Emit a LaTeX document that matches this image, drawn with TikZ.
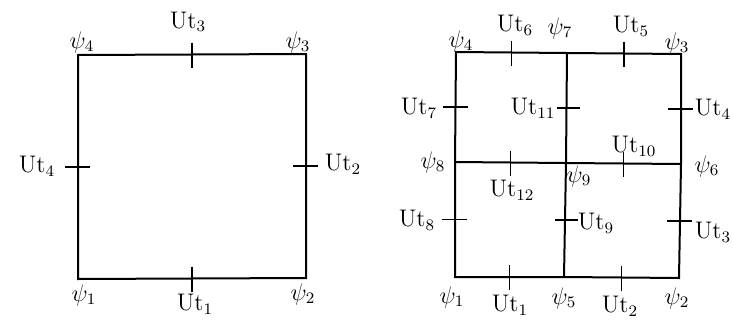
\documentclass[tikz,border=0pt]{standalone}
\usetikzlibrary{calc, positioning}
\tikzset{
  edge/.style={line width=1pt},
  tickmark/.style={line width=0.9pt},
  lbl/.style={inner sep=0pt, font=\large}
}
\newcommand{\ut}[1]{$\mathrm{Ut}_{#1}$}
\newcommand{\psn}[1]{$\psi_{#1}$}

\begin{document}
\begin{tikzpicture}[x=0.5pt, y=-0.5pt]
    \useasboundingbox (0,0) rectangle (733,321);

    % Left element: one cell
    \coordinate (a1) at (78,279);
    \coordinate (a2) at (306,278);
    \coordinate (a3) at (306,54);
    \coordinate (a4) at (78,55);
    \draw[edge] (a1) -- (a2) -- (a3) -- (a4) -- cycle;

    \coordinate (am1) at ($(a1)!0.5!(a2)$);
    \coordinate (am2) at ($(a2)!0.5!(a3)$);
    \coordinate (am3) at ($(a4)!0.5!(a3)$);
    \coordinate (am4) at ($(a1)!0.5!(a4)$);
    \foreach \m in {am1, am3} {
        \draw[tickmark] ([shift={(0,-12)}]\m) -- ([shift={(0,13)}]\m);
    }
    \foreach \m in {am2, am4} {
        \draw[tickmark] ([shift={(-13,0)}]\m) -- ([shift={(12,0)}]\m);
    }

    % Left labels
    \foreach \n/\p/\t in {la1/{(84,295)}/\psn{1}, la2/{(303,294)}/\psn{2},
                          la3/{(298,42)}/\psn{3}, la4/{(82,42)}/\psn{4},
                          lu1/{(195,304)}/\ut{1}, lu2/{(343,164)}/\ut{2},
                          lu3/{(188,22)}/\ut{3}, lu4/{(37,166)}/\ut{4}} {
        \node[lbl] (\n) at \p {\t};
    }

    % Right element: split into four cells
    \coordinate (b1) at (455,277);
    \coordinate (b2) at (679,278);
    \coordinate (b3) at (681,54);
    \coordinate (b4) at (456,52);
    \coordinate (b5) at (564,277);
    \coordinate (b6) at (681,164);
    \coordinate (b7) at (567,53);
    \coordinate (b8) at (455,162);
    \coordinate (b9) at (566,163);
    \draw[edge] (b1) -- (b5) -- (b2) -- (b6) -- (b3) -- (b7) -- (b4) -- (b8) -- cycle;
    \draw[edge] (b7) -- (b9) -- (b5);
    \draw[edge] (b8) -- (b9) -- (b6);

    % edge midpoints
    \coordinate (bm1)  at ($(b1)!0.5!(b5)$);
    \coordinate (bm2)  at ($(b5)!0.5!(b2)$);
    \coordinate (bm3)  at ($(b2)!0.5!(b6)$);
    \coordinate (bm4)  at ($(b6)!0.5!(b3)$);
    \coordinate (bm5)  at ($(b7)!0.5!(b3)$);
    \coordinate (bm6)  at ($(b4)!0.5!(b7)$);
    \coordinate (bm7)  at ($(b4)!0.5!(b8)$);
    \coordinate (bm8)  at ($(b8)!0.5!(b1)$);
    \coordinate (bm9)  at ($(b9)!0.5!(b5)$);
    \coordinate (bm10) at ($(b9)!0.5!(b6)$);
    \coordinate (bm11) at ($(b7)!0.5!(b9)$);
    \coordinate (bm12) at ($(b8)!0.5!(b9)$);
    \foreach \m in {bm1, bm2, bm5, bm6, bm10, bm12} {
        \draw[tickmark] ([shift={(0,-12)}]\m) -- ([shift={(0,13)}]\m);
    }
    \foreach \m in {bm3, bm4, bm7, bm8} {
        \draw[tickmark] ([shift={(-13,0)}]\m) -- ([shift={(12,0)}]\m);
    }
    \foreach \m in {bm9, bm11} {
        \draw[tickmark] ([shift={(-10,0)}]\m) -- ([shift={(13,0)}]\m);
    }

    % Right labels
    \foreach \n/\p/\t in {rb1/{(452,297)}/\psn{1}, rb2/{(677,298)}/\psn{2},
                          rb3/{(677,43)}/\psn{3}, rb4/{(461,41)}/\psn{4},
                          rb5/{(564,298)}/\psn{5}, rb6/{(707,166)}/\psn{6},
                          rb7/{(560,28)}/\psn{7}, rb8/{(433,162)}/\psn{8},
                          rb9/{(579,176)}/\psn{9},
                          ru1/{(510,305)}/\ut{1}, ru2/{(620,306)}/\ut{2},
                          ru3/{(713,232)}/\ut{3}, ru4/{(713,109)}/\ut{4},
                          ru5/{(631,26)}/\ut{5}, ru6/{(515,25)}/\ut{6},
                          ru7/{(419,108)}/\ut{7}, ru8/{(417,220)}/\ut{8},
                          ru9/{(596,223)}/\ut{9}, ru10/{(634,146)}/\ut{10},
                          ru11/{(533,108)}/\ut{11}, ru12/{(512,190)}/\ut{12}} {
        \node[lbl] (\n) at \p {\t};
    }
\end{tikzpicture}
\end{document}
